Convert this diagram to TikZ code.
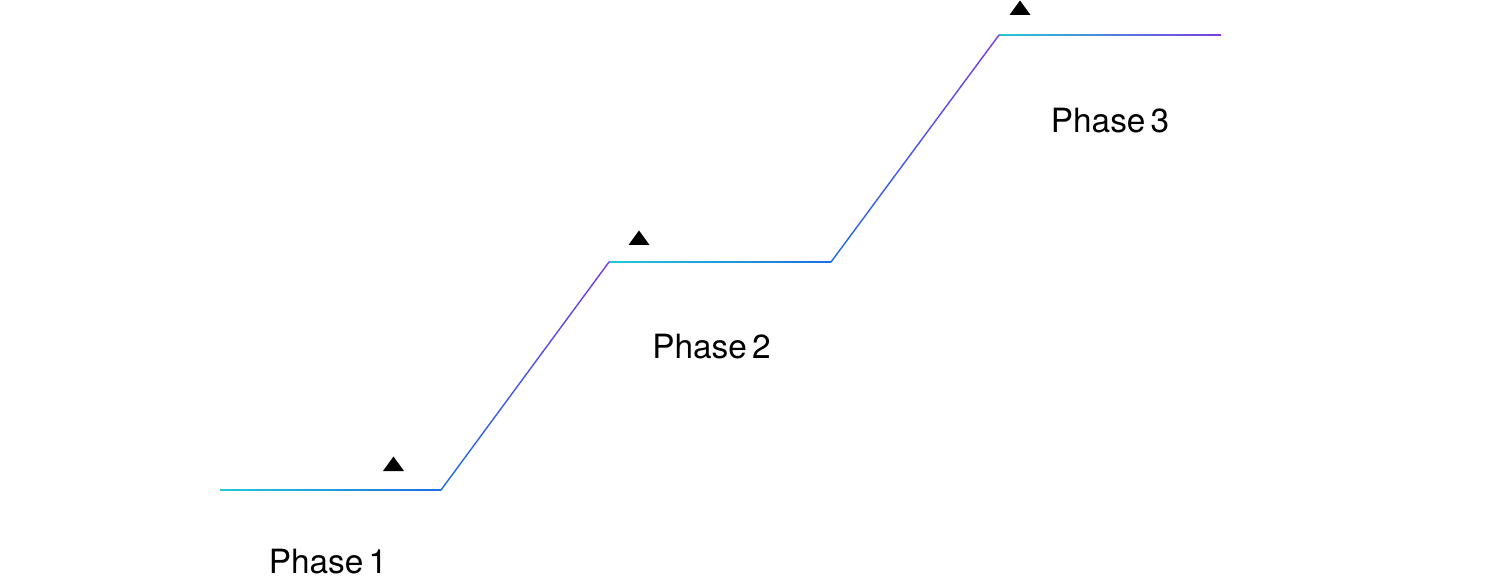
\documentclass[tikz,border=0pt]{standalone}
\usepackage{fontspec}
\setmainfont{TeX Gyre Heros}[WordSpace=0.55]
\usetikzlibrary{calc}

\definecolor{stepcyan}{RGB}{35,200,215}
\definecolor{stepblue}{RGB}{30,110,225}
\definecolor{steppurple}{RGB}{125,60,225}

\tikzset{
    phaselabel/.style={anchor=base, inner sep=1pt, font=\fontsize{19}{22}\selectfont},
    marker/.style={fill=black},
    flat/.style={left color=stepcyan, right color=stepblue},
}

% gradient stroke between two named points, drawn in small pieces
\newcommand{\gradseg}[4]{%
    \foreach \i in {1,...,40} {
        \pgfmathsetmacro{\ta}{(\i-1)/40}
        \pgfmathsetmacro{\tb}{\i/40}
        \pgfmathsetmacro{\mx}{100*(\i-0.5)/40}
        \draw[line width=0.8pt, line cap=round, color=#4!\mx!#3]
            ($(#1)!\ta!(#2)$) -- ($(#1)!\tb!(#2)$);
    }%
}

\begin{document}
\begin{tikzpicture}

    % Fix the page size
    \useasboundingbox (0,0) rectangle (30,11.6);

    % Corner points of the steps
    \coordinate (p0) at (4.40,1.80);
    \coordinate (p1) at (8.82,1.80);
    \coordinate (p2) at (12.18,6.36);
    \coordinate (p3) at (16.62,6.36);
    \coordinate (p4) at (19.98,10.90);
    \coordinate (p5) at (24.42,10.90);

    % Draw the flat parts
    \def\hw{0.014}
    \shade[flat] ($(p0)+(0,-\hw)$) rectangle ($(p1)+(0,\hw)$);
    \shade[flat] ($(p2)+(0,-\hw)$) rectangle ($(p3)+(0,\hw)$);
    \shade[left color=stepcyan, middle color=stepblue, right color=steppurple]
        ($(p4)+(0,-\hw)$) rectangle ($(p5)+(0,\hw)$);

    % Draw the rises
    \gradseg{p1}{p2}{stepblue}{steppurple}
    \gradseg{p3}{p4}{stepblue}{steppurple}

    % Markers above each step
    \foreach \x/\y/\n in {7.87/2.18/1, 12.78/6.70/2, 20.40/11.30/3} {
        \coordinate (t\n) at (\x,\y);
        \fill[marker] (t\n) ++(-0.21,0) -- ++(0.42,0) -- ++(-0.21,0.29) -- cycle;
    }

    % Phase labels
    \node[phaselabel] (lab1) at (6.56,0.14) {Phase 1};
    \node[phaselabel] (lab2) at (14.23,4.44) {Phase 2};
    \node[phaselabel] (lab3) at (22.20,8.94) {Phase 3};

\end{tikzpicture}
\end{document}
